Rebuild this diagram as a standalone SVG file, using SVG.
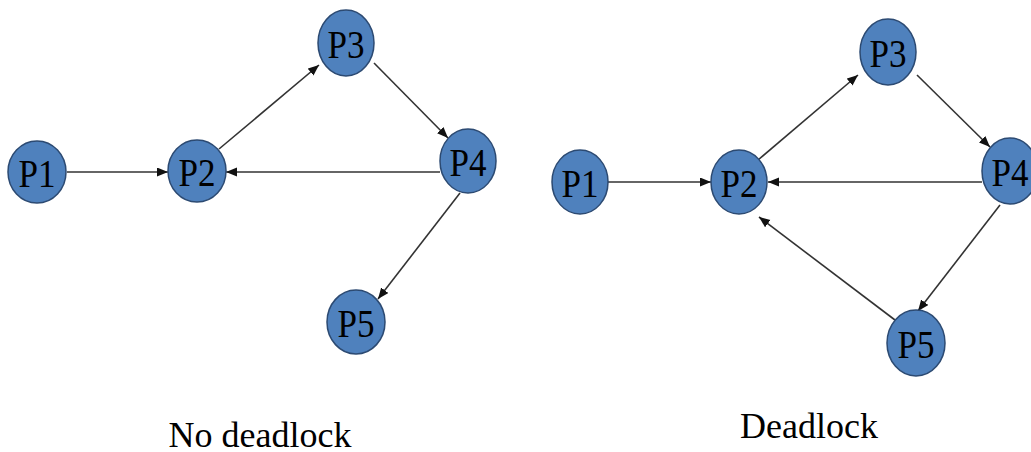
<svg xmlns="http://www.w3.org/2000/svg" width="1031" height="452" viewBox="0 0 1031 452">
<style>
.node ellipse{fill:#4F81BD;stroke:#2C4A72;stroke-width:1.5}
.node text{font-family:"Liberation Serif","Times New Roman",serif;font-size:40px;fill:#000;text-anchor:middle}
.edge{stroke:#333;stroke-width:1.6;fill:none;marker-end:url(#ah)}
.cap{font-family:"Liberation Serif","Times New Roman",serif;font-size:36px;fill:#000;text-anchor:middle}
</style>
<defs>
<marker id="ah" markerUnits="userSpaceOnUse" markerWidth="12" markerHeight="10" refX="11" refY="4.5" orient="auto">
<path d="M0,0 L11,4.5 L0,9 z" fill="#111"/>
</marker>
</defs>
<rect width="1031" height="452" fill="#fff"/>
<g id="connectors">
<line class="edge" x1="67" y1="172" x2="168" y2="172"/>
<line class="edge" x1="219" y1="149" x2="319" y2="65"/>
<line class="edge" x1="374" y1="63" x2="448" y2="138"/>
<line class="edge" x1="440" y1="172" x2="226" y2="172"/>
<line class="edge" x1="460" y1="193" x2="378" y2="299"/>
<line class="edge" x1="608" y1="182" x2="711" y2="182"/>
<line class="edge" x1="758" y1="160" x2="858" y2="75"/>
<line class="edge" x1="917" y1="75" x2="990" y2="147"/>
<line class="edge" x1="982" y1="182" x2="768" y2="182"/>
<line class="edge" x1="1000" y1="205" x2="918" y2="311"/>
<line class="edge" x1="895" y1="320" x2="759" y2="217"/>
</g>
<g id="L-P1" class="node"><ellipse cx="37" cy="172" rx="29" ry="31"/><text x="37" y="187" textLength="37" lengthAdjust="spacingAndGlyphs">P1</text></g>
<g id="L-P2" class="node"><ellipse cx="197" cy="171" rx="29" ry="31"/><text x="197" y="186" textLength="37" lengthAdjust="spacingAndGlyphs">P2</text></g>
<g id="L-P3" class="node"><ellipse cx="346" cy="43" rx="28" ry="33"/><text x="346" y="58" textLength="37" lengthAdjust="spacingAndGlyphs">P3</text></g>
<g id="L-P4" class="node"><ellipse cx="468" cy="161" rx="28" ry="32"/><text x="468" y="176" textLength="37" lengthAdjust="spacingAndGlyphs">P4</text></g>
<g id="L-P5" class="node"><ellipse cx="356" cy="322" rx="29" ry="32"/><text x="356" y="337" textLength="37" lengthAdjust="spacingAndGlyphs">P5</text></g>
<g id="R-P1" class="node"><ellipse cx="580" cy="182" rx="28" ry="32"/><text x="580" y="197" textLength="37" lengthAdjust="spacingAndGlyphs">P1</text></g>
<g id="R-P2" class="node"><ellipse cx="739" cy="182" rx="28" ry="32"/><text x="739" y="197" textLength="37" lengthAdjust="spacingAndGlyphs">P2</text></g>
<g id="R-P3" class="node"><ellipse cx="888" cy="52" rx="28" ry="33"/><text x="888" y="67" textLength="37" lengthAdjust="spacingAndGlyphs">P3</text></g>
<g id="R-P4" class="node"><ellipse cx="1010" cy="171" rx="28" ry="33"/><text x="1010" y="186" textLength="37" lengthAdjust="spacingAndGlyphs">P4</text></g>
<g id="R-P5" class="node"><ellipse cx="916" cy="343" rx="29" ry="33"/><text x="916" y="358" textLength="37" lengthAdjust="spacingAndGlyphs">P5</text></g>
<text class="cap" x="260" y="447">No deadlock</text>
<text class="cap" x="809" y="438">Deadlock</text>
</svg>
